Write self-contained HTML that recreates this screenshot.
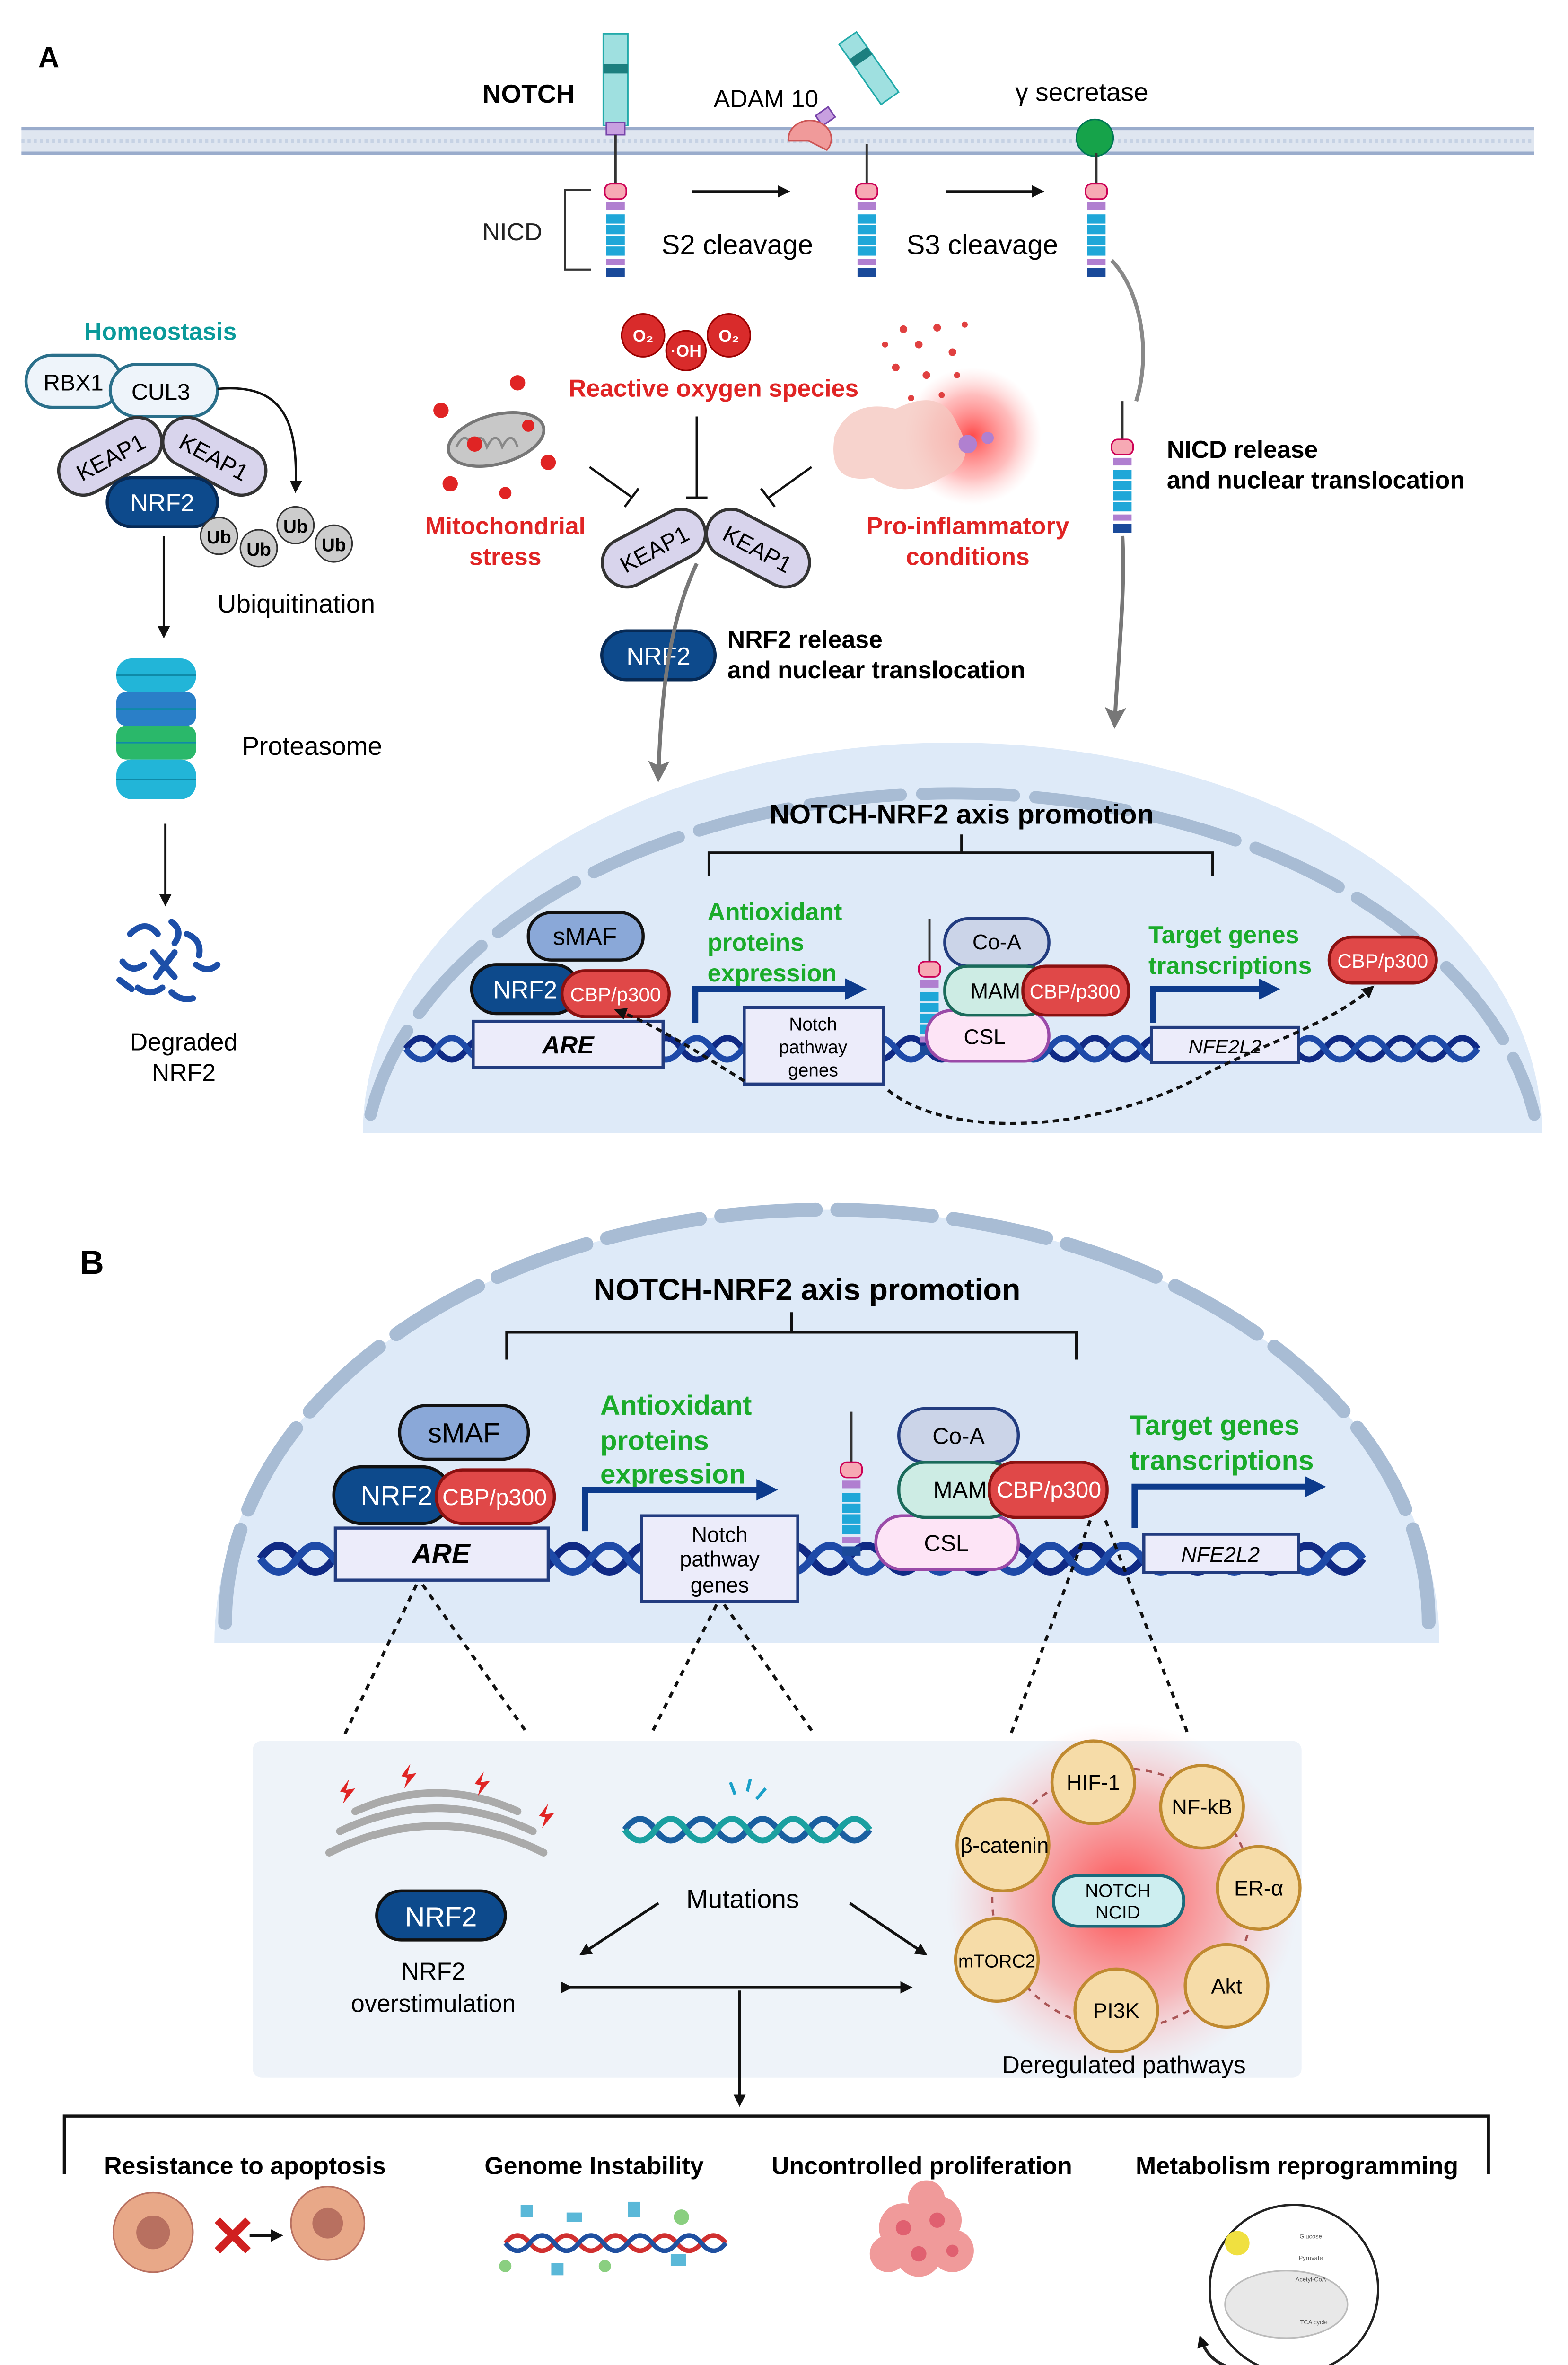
<!DOCTYPE html>
<html><head><meta charset="utf-8"><style>
html,body{margin:0;padding:0;background:#fff;width:3315px;height:5079px;overflow:hidden;}
svg{display:block;}
text{font-family:"Liberation Sans",sans-serif;}
</style></head><body>
<svg width="3315" height="5079" viewBox="0 0 1024 1569" preserveAspectRatio="none" xmlns="http://www.w3.org/2000/svg">
<defs>
<marker id="ah" markerWidth="8" markerHeight="8" refX="6" refY="4" orient="auto" markerUnits="userSpaceOnUse"><path d="M0,0 L8,4 L0,8 Z" fill="#111"/></marker>
<marker id="ahg" markerWidth="14" markerHeight="14" refX="10" refY="7" orient="auto" markerUnits="userSpaceOnUse"><path d="M0,0 L14,7 L0,14 L3,7 Z" fill="#777"/></marker>
<marker id="ahb" markerWidth="14" markerHeight="14" refX="8" refY="7" orient="auto" markerUnits="userSpaceOnUse"><path d="M0,0 L14,7 L0,14 Z" fill="#0d3b8c"/></marker>
<radialGradient id="glow"><stop offset="0" stop-color="#ff2a2a" stop-opacity="0.85"/><stop offset="0.6" stop-color="#ff6b6b" stop-opacity="0.45"/><stop offset="1" stop-color="#ffb0b0" stop-opacity="0"/></radialGradient>
<g id="rec">
<rect x="-7" y="0" width="14" height="10" rx="4" fill="#f7a9b4" stroke="#c05"/>
<rect x="-6" y="12" width="12" height="5" fill="#b07fd0"/>
<rect x="-6" y="20" width="12" height="6" fill="#1fa7d8"/><rect x="-6" y="27" width="12" height="6" fill="#1fa7d8"/><rect x="-6" y="34" width="12" height="6" fill="#1fa7d8"/><rect x="-6" y="41" width="12" height="6" fill="#1fa7d8"/>
<rect x="-6" y="49" width="12" height="4" fill="#b07fd0"/>
<rect x="-6" y="55" width="12" height="6" fill="#1a4a9a"/>
</g>
</defs>

<text x="25" y="44" font-size="19" font-weight="bold">A</text>
<rect x="14" y="84" width="988" height="16" fill="#dfe6f0"/>
<line x1="14" y1="84" x2="1002" y2="84" stroke="#9aaccc" stroke-width="2"/>
<line x1="14" y1="100" x2="1002" y2="100" stroke="#9aaccc" stroke-width="2"/>
<line x1="14" y1="92" x2="1002" y2="92" stroke="#c6d2e4" stroke-width="3" stroke-dasharray="2 2"/>

<text x="315" y="67" font-size="17" font-weight="bold">NOTCH</text>
<g>
<rect x="394" y="22" width="16" height="60" fill="#9fe0e0" stroke="#2aa" />
<rect x="394" y="42" width="16" height="6" fill="#1c7f7f"/>
<rect x="396" y="80" width="12" height="8" fill="#c8a0e0" stroke="#74a"/>
<line x1="402" y1="88" x2="402" y2="120" stroke="#333" stroke-width="1.5"/>
</g>
<use href="#rec" x="402" y="120"/>
<text x="315" y="157" font-size="16" fill="#222">NICD</text>
<path d="M386,124 L369,124 L369,176 L386,176" fill="none" stroke="#333" stroke-width="1.3"/>

<text x="466" y="70" font-size="16">ADAM 10</text>
<g transform="translate(570,50) rotate(-35)"><rect x="-6" y="-30" width="14" height="48" fill="#9fe0e0" stroke="#2aa"/><rect x="-6" y="-18" width="14" height="6" fill="#1c7f7f"/></g>
<rect x="534" y="72" width="10" height="8" fill="#c8a0e0" stroke="#74a" transform="rotate(-35 539 76)"/>
<path d="M515,92 A14,12 0 1,1 540,98 L528,92 Z" fill="#f09a9a" stroke="#c55"/>
<line x1="566" y1="94" x2="566" y2="120" stroke="#333" stroke-width="1.5"/>
<use href="#rec" x="566" y="120"/>

<text x="663" y="66" font-size="17">γ secretase</text>
<circle cx="715" cy="90" r="12" fill="#16a34a" stroke="#075"/>
<line x1="716" y1="100" x2="716" y2="120" stroke="#333" stroke-width="1.5"/>
<use href="#rec" x="716" y="120"/>

<line x1="452" y1="125" x2="514" y2="125" stroke="#111" stroke-width="1.5" marker-end="url(#ah)"/>
<line x1="618" y1="125" x2="680" y2="125" stroke="#111" stroke-width="1.5" marker-end="url(#ah)"/>
<text x="432" y="166" font-size="18">S2 cleavage</text>
<text x="592" y="166" font-size="18">S3 cleavage</text>

<path d="M726,170 C745,190 752,230 742,262" fill="none" stroke="#888" stroke-width="2.5"/>
<line x1="733" y1="262" x2="733" y2="288" stroke="#333" stroke-width="1.5"/>
<use href="#rec" x="733" y="287"/>
<path d="M733,350 C735,390 730,430 728,472" fill="none" stroke="#777" stroke-width="2.5" marker-end="url(#ahg)"/>
<text x="762" y="299" font-size="16" font-weight="bold">NICD release</text>
<text x="762" y="319" font-size="16" font-weight="bold">and nuclear translocation</text>

<text x="55" y="222" font-size="16" font-weight="bold" fill="#0a9a9a">Homeostasis</text>
<rect x="17" y="232" width="62" height="34" rx="17" fill="#eef4fa" stroke="#2a6f8a" stroke-width="2"/>
<text x="48" y="255" font-size="15" text-anchor="middle">RBX1</text>
<rect x="72" y="238" width="70" height="34" rx="17" fill="#eef4fa" stroke="#2a6f8a" stroke-width="2"/>
<text x="105" y="261" font-size="15" text-anchor="middle">CUL3</text>
<g transform="translate(72,298) rotate(-28)"><rect x="-36" y="-16" width="72" height="32" rx="16" fill="#d8d4ec" stroke="#333" stroke-width="2"/><text x="0" y="6" font-size="15" text-anchor="middle">KEAP1</text></g>
<g transform="translate(140,298) rotate(28)"><rect x="-36" y="-16" width="72" height="32" rx="16" fill="#d8d4ec" stroke="#333" stroke-width="2"/><text x="0" y="6" font-size="15" text-anchor="middle">KEAP1</text></g>
<rect x="70" y="312" width="72" height="32" rx="16" fill="#0d4a8c" stroke="#072a55" stroke-width="2"/>
<text x="106" y="334" font-size="16" fill="#fff" text-anchor="middle">NRF2</text>
<path d="M142,254 C185,250 195,275 193,320" fill="none" stroke="#111" stroke-width="1.5" marker-end="url(#ah)"/>
<g font-size="12" font-weight="bold" text-anchor="middle">
<circle cx="143" cy="350" r="12" fill="#ccc" stroke="#333"/><text x="143" y="355">Ub</text>
<circle cx="169" cy="358" r="12" fill="#ccc" stroke="#333"/><text x="169" y="363">Ub</text>
<circle cx="193" cy="343" r="12" fill="#ccc" stroke="#333"/><text x="193" y="348">Ub</text>
<circle cx="218" cy="355" r="12" fill="#ccc" stroke="#333"/><text x="218" y="360">Ub</text>
</g>
<text x="142" y="400" font-size="17">Ubiquitination</text>
<line x1="107" y1="350" x2="107" y2="415" stroke="#111" stroke-width="1.5" marker-end="url(#ah)"/>
<g>
<rect x="76" y="430" width="52" height="22" rx="10" fill="#22b5d8"/>
<rect x="76" y="452" width="52" height="22" rx="6" fill="#2a7fc8"/>
<rect x="76" y="474" width="52" height="22" rx="6" fill="#2ab86a"/>
<rect x="76" y="496" width="52" height="26" rx="10" fill="#22b5d8"/>
<g fill="none" stroke="#0f8aa8" stroke-width="1"><line x1="76" y1="441" x2="128" y2="441"/><line x1="76" y1="463" x2="128" y2="463"/><line x1="76" y1="485" x2="128" y2="485"/><line x1="76" y1="509" x2="128" y2="509"/></g>
</g>
<text x="158" y="493" font-size="17">Proteasome</text>
<line x1="108" y1="538" x2="108" y2="590" stroke="#111" stroke-width="1.5" marker-end="url(#ah)"/>
<g fill="none" stroke="#1d4fa8" stroke-width="4" stroke-linecap="round">
<path d="M85,610 q10,-10 18,0"/><path d="M112,602 q8,6 2,14"/><path d="M80,628 q6,8 14,2"/><path d="M100,622 l14,16"/><path d="M114,622 l-12,16"/><path d="M122,610 q10,4 8,14"/><path d="M128,630 q8,6 14,0"/><path d="M90,645 q8,6 16,0"/><path d="M112,648 q6,6 14,4"/><path d="M78,640 l8,6"/>
</g>
<text x="120" y="686" font-size="16" text-anchor="middle">Degraded</text>
<text x="120" y="706" font-size="16" text-anchor="middle">NRF2</text>

<g font-size="11" fill="#fff" font-weight="bold" text-anchor="middle">
<circle cx="420" cy="219" r="14" fill="#d92b2b" stroke="#900"/><text x="420" y="223">O₂</text>
<circle cx="448" cy="229" r="13" fill="#d92b2b" stroke="#900"/><text x="448" y="233">·OH</text>
<circle cx="476" cy="219" r="14" fill="#d92b2b" stroke="#900"/><text x="476" y="223">O₂</text>
</g>
<text x="466" y="259" font-size="16" font-weight="bold" fill="#e02424" text-anchor="middle">Reactive oxygen species</text>
<ellipse cx="324" cy="287" rx="32" ry="16" fill="#c8c8c8" stroke="#777" stroke-width="2" transform="rotate(-15 324 287)"/>
<path d="M298,292 q6,-12 10,0 q6,-12 10,0 q6,-12 10,0 q6,-12 10,0" fill="none" stroke="#888" stroke-width="1.5"/>
<g fill="#e02424"><circle cx="288" cy="268" r="5"/><circle cx="338" cy="250" r="5"/><circle cx="358" cy="302" r="5"/><circle cx="294" cy="316" r="5"/><circle cx="330" cy="322" r="4"/><circle cx="310" cy="290" r="5"/><circle cx="345" cy="278" r="4"/></g>
<text x="330" y="349" font-size="16" font-weight="bold" fill="#e02424" text-anchor="middle">Mitochondrial</text>
<text x="330" y="369" font-size="16" font-weight="bold" fill="#e02424" text-anchor="middle">stress</text>
<circle cx="635" cy="285" r="45" fill="url(#glow)"/>
<path d="M545,285 q10,-25 40,-18 q30,-15 40,10 q15,25 -10,35 q-25,15 -45,0 q-30,5 -25,-27Z" fill="#f5c8c0" opacity="0.8"/>
<g fill="#e04040"><circle cx="590" cy="215" r="2.5"/><circle cx="600" cy="225" r="2.5"/><circle cx="612" cy="214" r="2.5"/><circle cx="622" cy="230" r="2.5"/><circle cx="585" cy="240" r="2.5"/><circle cx="605" cy="245" r="2.5"/><circle cx="630" cy="212" r="2"/><circle cx="578" cy="225" r="2"/><circle cx="615" cy="258" r="2"/><circle cx="595" cy="260" r="2"/><circle cx="625" cy="245" r="2"/></g>
<circle cx="632" cy="290" r="6" fill="#b080d0"/><circle cx="645" cy="286" r="4" fill="#b080d0"/>
<text x="632" y="349" font-size="16" font-weight="bold" fill="#e02424" text-anchor="middle">Pro-inflammatory</text>
<text x="632" y="369" font-size="16" font-weight="bold" fill="#e02424" text-anchor="middle">conditions</text>
<g stroke="#111" stroke-width="1.5">
<line x1="455" y1="272" x2="455" y2="325"/><line x1="448" y1="325" x2="462" y2="325"/>
<line x1="385" y1="305" x2="413" y2="325"/><line x1="408" y1="331" x2="417" y2="319"/>
<line x1="530" y1="305" x2="502" y2="325"/><line x1="497" y1="319" x2="506" y2="331"/>
</g>
<g transform="translate(427,358) rotate(-28)"><rect x="-36" y="-16" width="72" height="32" rx="16" fill="#d8d4ec" stroke="#333" stroke-width="2"/><text x="0" y="6" font-size="15" text-anchor="middle">KEAP1</text></g>
<g transform="translate(495,358) rotate(28)"><rect x="-36" y="-16" width="72" height="32" rx="16" fill="#d8d4ec" stroke="#333" stroke-width="2"/><text x="0" y="6" font-size="15" text-anchor="middle">KEAP1</text></g>
<rect x="393" y="412" width="74" height="32" rx="16" fill="#0d4a8c" stroke="#072a55" stroke-width="2"/>
<text x="430" y="434" font-size="16" fill="#fff" text-anchor="middle">NRF2</text>
<text x="475" y="423" font-size="16" font-weight="bold">NRF2 release</text>
<text x="475" y="443" font-size="16" font-weight="bold">and nuclear translocation</text>
<path d="M455,368 C440,400 432,440 430,507" fill="none" stroke="#777" stroke-width="2.5" marker-end="url(#ahg)"/>

<path d="M237,740 A385,255 0 0,1 1007,740 Z" fill="#deeaf8"/>
<path d="M242,728 A385,250 0 0,1 1002,728" fill="none" stroke="#a8bcd4" stroke-width="8" stroke-dasharray="60 14" stroke-linecap="round"/>
<text x="628" y="538" font-size="18" font-weight="bold" text-anchor="middle">NOTCH-NRF2 axis promotion</text>
<path d="M463,572 L463,557 L792,557 L792,572 M628,557 L628,545" fill="none" stroke="#111" stroke-width="1.8"/>
<g fill="none" stroke-width="4">
<path d="M265,685 q10,-14 20,0 t20,0 t20,0 t20,0 t20,0 t20,0 t20,0 t20,0 t20,0 t20,0 t20,0 t20,0 t20,0 t20,0 t20,0 t20,0 t20,0 t20,0 t20,0 t20,0 t20,0 t20,0 t20,0 t20,0 t20,0 t20,0 t20,0 t20,0 t20,0 t20,0 t20,0 t20,0 t20,0 t20,0 t20,0" stroke="#102a85"/>
<path d="M265,685 q10,14 20,0 t20,0 t20,0 t20,0 t20,0 t20,0 t20,0 t20,0 t20,0 t20,0 t20,0 t20,0 t20,0 t20,0 t20,0 t20,0 t20,0 t20,0 t20,0 t20,0 t20,0 t20,0 t20,0 t20,0 t20,0 t20,0 t20,0 t20,0 t20,0 t20,0 t20,0 t20,0 t20,0 t20,0 t20,0" stroke="#1e4aa8"/>
</g>
<rect x="345" y="596" width="75" height="31" rx="15" fill="#8aa8d8" stroke="#111" stroke-width="2"/>
<text x="382" y="617" font-size="16" text-anchor="middle">sMAF</text>
<rect x="308" y="630" width="70" height="32" rx="16" fill="#0d4a8c" stroke="#111" stroke-width="2"/>
<text x="343" y="652" font-size="16" fill="#fff" text-anchor="middle">NRF2</text>
<rect x="367" y="634" width="70" height="30" rx="15" fill="#e04848" stroke="#8a1010" stroke-width="2"/>
<text x="402" y="654" font-size="13" fill="#fff" text-anchor="middle">CBP/p300</text>
<rect x="309" y="667" width="124" height="30" fill="#ececfa" stroke="#223c80" stroke-width="2"/>
<text x="371" y="688" font-size="16" font-weight="bold" font-style="italic" text-anchor="middle">ARE</text>
<text x="462" y="601" font-size="16" font-weight="bold" fill="#1aab2a">Antioxidant</text>
<text x="462" y="621" font-size="16" font-weight="bold" fill="#1aab2a">proteins</text>
<text x="462" y="641" font-size="16" font-weight="bold" fill="#1aab2a">expression</text>
<path d="M454,668 L454,646 L560,646" fill="none" stroke="#0d3b8c" stroke-width="4" marker-end="url(#ahb)"/>
<rect x="486" y="658" width="91" height="50" fill="#ececfa" stroke="#223c80" stroke-width="2"/>
<text x="531" y="673" font-size="12" text-anchor="middle">Notch</text>
<text x="531" y="688" font-size="12" text-anchor="middle">pathway</text>
<text x="531" y="703" font-size="12" text-anchor="middle">genes</text>
<line x1="607" y1="600" x2="607" y2="630" stroke="#333" stroke-width="1.5"/>
<use href="#rec" x="607" y="628"/>
<rect x="605" y="660" width="80" height="33" rx="16" fill="#fde4f6" stroke="#9a4aa8" stroke-width="2"/>
<text x="643" y="682" font-size="14" text-anchor="middle">CSL</text>
<rect x="617" y="600" width="68" height="31" rx="15" fill="#cbd4e8" stroke="#223c80" stroke-width="2"/>
<text x="651" y="620" font-size="14" text-anchor="middle">Co-A</text>
<rect x="617" y="631" width="68" height="32" rx="15" fill="#cdece4" stroke="#1a6a5a" stroke-width="2"/>
<text x="650" y="652" font-size="14" text-anchor="middle">MAM</text>
<rect x="668" y="631" width="69" height="32" rx="15" fill="#e04848" stroke="#8a1010" stroke-width="2"/>
<text x="702" y="652" font-size="13" fill="#fff" text-anchor="middle">CBP/p300</text>
<text x="750" y="616" font-size="16" font-weight="bold" fill="#1aab2a">Target genes</text>
<text x="750" y="636" font-size="16" font-weight="bold" fill="#1aab2a">transcriptions</text>
<path d="M753,668 L753,646 L830,646" fill="none" stroke="#0d3b8c" stroke-width="4" marker-end="url(#ahb)"/>
<rect x="752" y="671" width="96" height="23" fill="#ececfa" stroke="#223c80" stroke-width="2"/>
<text x="800" y="688" font-size="13" font-style="italic" text-anchor="middle">NFE2L2</text>
<rect x="868" y="612" width="70" height="30" rx="15" fill="#e04848" stroke="#8a1010" stroke-width="2"/>
<text x="903" y="632" font-size="13" fill="#fff" text-anchor="middle">CBP/p300</text>
<path d="M486,706 C460,690 430,670 403,660" fill="none" stroke="#111" stroke-width="2" stroke-dasharray="4 3" marker-end="url(#ah)"/>
<path d="M580,712 C620,745 720,740 790,700 C830,680 870,668 896,645" fill="none" stroke="#111" stroke-width="2" stroke-dasharray="4 3" marker-end="url(#ah)"/>

<text x="52" y="832" font-size="22" font-weight="bold">B</text>
<path d="M140,1073 A400,283 0 0,1 940,1073 Z" fill="#deeaf8"/>
<path d="M147,1060 A393,270 0 0,1 933,1060" fill="none" stroke="#a8bcd4" stroke-width="9" stroke-dasharray="62 14" stroke-linecap="round"/>
<text x="527" y="849" font-size="20" font-weight="bold" text-anchor="middle">NOTCH-NRF2 axis promotion</text>
<path d="M331,888 L331,870 L703,870 L703,888 M517,870 L517,857" fill="none" stroke="#111" stroke-width="2"/>
<g fill="none" stroke-width="5">
<path d="M170,1018 q12,-17 24,0 t24,0 t24,0 t24,0 t24,0 t24,0 t24,0 t24,0 t24,0 t24,0 t24,0 t24,0 t24,0 t24,0 t24,0 t24,0 t24,0 t24,0 t24,0 t24,0 t24,0 t24,0 t24,0 t24,0 t24,0 t24,0 t24,0 t24,0 t24,0 t24,0" stroke="#102a85"/>
<path d="M170,1018 q12,17 24,0 t24,0 t24,0 t24,0 t24,0 t24,0 t24,0 t24,0 t24,0 t24,0 t24,0 t24,0 t24,0 t24,0 t24,0 t24,0 t24,0 t24,0 t24,0 t24,0 t24,0 t24,0 t24,0 t24,0 t24,0 t24,0 t24,0 t24,0 t24,0 t24,0" stroke="#1e4aa8"/>
</g>
<rect x="261" y="918" width="84" height="35" rx="17" fill="#8aa8d8" stroke="#111" stroke-width="2"/>
<text x="303" y="942" font-size="18" text-anchor="middle">sMAF</text>
<rect x="218" y="958" width="76" height="37" rx="18" fill="#0d4a8c" stroke="#111" stroke-width="2"/>
<text x="259" y="983" font-size="18" fill="#fff" text-anchor="middle">NRF2</text>
<rect x="285" y="960" width="77" height="35" rx="17" fill="#e04848" stroke="#8a1010" stroke-width="2"/>
<text x="323" y="983" font-size="15" fill="#fff" text-anchor="middle">CBP/p300</text>
<rect x="219" y="998" width="139" height="34" fill="#ececfa" stroke="#223c80" stroke-width="2"/>
<text x="288" y="1021" font-size="18" font-weight="bold" font-style="italic" text-anchor="middle">ARE</text>
<text x="392" y="924" font-size="18" font-weight="bold" fill="#1aab2a">Antioxidant</text>
<text x="392" y="947" font-size="18" font-weight="bold" fill="#1aab2a">proteins</text>
<text x="392" y="969" font-size="18" font-weight="bold" fill="#1aab2a">expression</text>
<path d="M382,1000 L382,973 L502,973" fill="none" stroke="#0d3b8c" stroke-width="4" marker-end="url(#ahb)"/>
<rect x="419" y="990" width="102" height="56" fill="#ececfa" stroke="#223c80" stroke-width="2"/>
<text x="470" y="1007" font-size="14" text-anchor="middle">Notch</text>
<text x="470" y="1023" font-size="14" text-anchor="middle">pathway</text>
<text x="470" y="1040" font-size="14" text-anchor="middle">genes</text>
<line x1="556" y1="922" x2="556" y2="955" stroke="#333" stroke-width="1.5"/>
<use href="#rec" x="556" y="955"/>
<rect x="572" y="990" width="93" height="35" rx="17" fill="#fde4f6" stroke="#9a4aa8" stroke-width="2"/>
<text x="618" y="1013" font-size="15" text-anchor="middle">CSL</text>
<rect x="587" y="920" width="78" height="35" rx="17" fill="#cbd4e8" stroke="#223c80" stroke-width="2"/>
<text x="626" y="943" font-size="15" text-anchor="middle">Co-A</text>
<rect x="587" y="955" width="76" height="36" rx="17" fill="#cdece4" stroke="#1a6a5a" stroke-width="2"/>
<text x="627" y="978" font-size="15" text-anchor="middle">MAM</text>
<rect x="646" y="955" width="77" height="36" rx="17" fill="#e04848" stroke="#8a1010" stroke-width="2"/>
<text x="685" y="978" font-size="15" fill="#fff" text-anchor="middle">CBP/p300</text>
<text x="738" y="937" font-size="18" font-weight="bold" fill="#1aab2a">Target genes</text>
<text x="738" y="960" font-size="18" font-weight="bold" fill="#1aab2a">transcriptions</text>
<path d="M741,998 L741,971 L860,971" fill="none" stroke="#0d3b8c" stroke-width="4" marker-end="url(#ahb)"/>
<rect x="747" y="1002" width="101" height="25" fill="#ececfa" stroke="#223c80" stroke-width="2"/>
<text x="797" y="1020" font-size="14" font-style="italic" text-anchor="middle">NFE2L2</text>
<g stroke="#111" stroke-width="2" stroke-dasharray="4 4" fill="none">
<line x1="272" y1="1035" x2="225" y2="1133"/><line x1="276" y1="1035" x2="345" y2="1133"/>
<line x1="468" y1="1048" x2="425" y2="1133"/><line x1="473" y1="1048" x2="532" y2="1133"/>
<line x1="712" y1="993" x2="660" y2="1133"/><line x1="722" y1="993" x2="776" y2="1133"/>
</g>

<rect x="165" y="1137" width="685" height="220" rx="6" fill="#eef3f9"/>
<g fill="none" stroke="#aaa" stroke-width="5" stroke-linecap="round">
<path d="M215,1210 q70,-35 140,0"/><path d="M222,1196 q63,-30 126,0"/><path d="M232,1183 q53,-24 106,0"/>
</g>
<g fill="#e02424">
<path d="M222,1170 l6,-8 l-2,7 l6,-1 l-8,10 l2,-7z"/><path d="M262,1160 l6,-8 l-2,7 l6,-1 l-8,10 l2,-7z"/><path d="M310,1165 l6,-8 l-2,7 l6,-1 l-8,10 l2,-7z"/><path d="M352,1186 l6,-8 l-2,7 l6,-1 l-8,10 l2,-7z"/>
</g>
<rect x="246" y="1235" width="84" height="32" rx="16" fill="#0d4a8c" stroke="#111" stroke-width="2"/>
<text x="288" y="1258" font-size="18" fill="#fff" text-anchor="middle">NRF2</text>
<text x="283" y="1293" font-size="16" text-anchor="middle">NRF2</text>
<text x="283" y="1314" font-size="16" text-anchor="middle">overstimulation</text>
<g fill="none" stroke-width="4">
<path d="M408,1195 q10,-14 20,0 t20,0 t20,0 t20,0 t20,0 t20,0 t20,0 t20,0" stroke="#1a5fa0"/>
<path d="M408,1195 q10,14 20,0 t20,0 t20,0 t20,0 t20,0 t20,0 t20,0 t20,0" stroke="#1aa0a0"/>
</g>
<g stroke="#1aa0c8" stroke-width="2"><line x1="480" y1="1172" x2="477" y2="1164"/><line x1="488" y1="1170" x2="490" y2="1162"/><line x1="494" y1="1175" x2="500" y2="1168"/></g>
<text x="485" y="1246" font-size="17" text-anchor="middle">Mutations</text>
<line x1="430" y1="1243" x2="380" y2="1276" stroke="#111" stroke-width="1.8" marker-end="url(#ah)"/>
<line x1="555" y1="1243" x2="604" y2="1276" stroke="#111" stroke-width="1.8" marker-end="url(#ah)"/>
<line x1="372" y1="1298" x2="594" y2="1298" stroke="#111" stroke-width="1.8" marker-start="url(#ah)" marker-end="url(#ah)"/>
<line x1="483" y1="1300" x2="483" y2="1374" stroke="#111" stroke-width="1.8" marker-end="url(#ah)"/>

<circle cx="733" cy="1240" r="115" fill="url(#glow)"/>
<circle cx="733" cy="1240" r="85" fill="none" stroke="#a55" stroke-width="1.5" stroke-dasharray="4 4"/>
<g fill="#f6dca8" stroke="#c08a30" stroke-width="2">
<circle cx="714" cy="1164" r="27"/><circle cx="785" cy="1180" r="27"/><circle cx="655" cy="1205" r="30"/><circle cx="822" cy="1233" r="27"/><circle cx="651" cy="1280" r="27"/><circle cx="801" cy="1297" r="27"/><circle cx="729" cy="1313" r="27"/>
</g>
<g font-size="14" text-anchor="middle">
<text x="714" y="1169">HIF-1</text><text x="785" y="1185">NF-kB</text><text x="656" y="1210">β-catenin</text><text x="822" y="1238">ER-α</text><text x="651" y="1285" font-size="12">mTORC2</text><text x="801" y="1302">Akt</text><text x="729" y="1318">PI3K</text>
</g>
<rect x="688" y="1225" width="85" height="33" rx="16" fill="#cdeef0" stroke="#1a6a7a" stroke-width="2"/>
<text x="730" y="1239" font-size="12" text-anchor="middle">NOTCH</text>
<text x="730" y="1253" font-size="12" text-anchor="middle">NCID</text>
<text x="734" y="1354" font-size="16" text-anchor="middle">Deregulated pathways</text>

<path d="M42,1420 L42,1382 L972,1382 L972,1420" fill="none" stroke="#111" stroke-width="2"/>
<g font-size="16" font-weight="bold" text-anchor="middle">
<text x="160" y="1420">Resistance to apoptosis</text>
<text x="388" y="1420">Genome Instability</text>
<text x="602" y="1420">Uncontrolled proliferation</text>
<text x="847" y="1420">Metabolism reprogramming</text>
</g>
<circle cx="100" cy="1458" r="26" fill="#e8a888" stroke="#b87060"/><circle cx="100" cy="1458" r="11" fill="#b87060"/>
<path d="M142,1450 l20,20 M162,1450 l-20,20" stroke="#d02020" stroke-width="5"/>
<line x1="163" y1="1460" x2="183" y2="1460" stroke="#111" stroke-width="2" marker-end="url(#ah)"/>
<circle cx="214" cy="1452" r="24" fill="#e8a888" stroke="#b87060"/><circle cx="214" cy="1452" r="10" fill="#b87060"/>
<g fill="none" stroke-width="3">
<path d="M330,1465 q8,-10 16,0 t16,0 t16,0 t16,0 t16,0 t16,0 t16,0 t16,0 t16,0" stroke="#d03030"/>
<path d="M330,1465 q8,10 16,0 t16,0 t16,0 t16,0 t16,0 t16,0 t16,0 t16,0 t16,0" stroke="#2050a0"/>
</g>
<g fill="#5ab8d8"><rect x="340" y="1440" width="8" height="8"/><rect x="370" y="1445" width="10" height="6"/><rect x="410" y="1438" width="8" height="10"/><rect x="438" y="1472" width="10" height="8"/><rect x="360" y="1478" width="8" height="8"/></g>
<g fill="#8acf80"><circle cx="445" cy="1448" r="5"/><circle cx="395" cy="1480" r="4"/><circle cx="330" cy="1480" r="4"/></g>
<g fill="#f09a9a"><circle cx="590" cy="1455" r="16"/><circle cx="612" cy="1450" r="16"/><circle cx="600" cy="1472" r="15"/><circle cx="622" cy="1470" r="14"/><circle cx="580" cy="1472" r="12"/><circle cx="605" cy="1436" r="12"/></g>
<g fill="#e06070"><circle cx="590" cy="1455" r="5"/><circle cx="612" cy="1450" r="5"/><circle cx="600" cy="1472" r="5"/><circle cx="622" cy="1470" r="4"/></g>
<circle cx="845" cy="1495" r="55" fill="#fff" stroke="#222" stroke-width="1.5"/>
<ellipse cx="840" cy="1505" rx="40" ry="22" fill="#e8e8e8" stroke="#bbb"/>
<circle cx="808" cy="1465" r="8" fill="#f0e040"/>
<path d="M800,1545 q-12,-5 -16,-18" fill="none" stroke="#222" stroke-width="2" marker-end="url(#ah)"/>
<g font-size="4" text-anchor="middle" fill="#555"><text x="856" y="1462">Glucose</text><text x="856" y="1476">Pyruvate</text><text x="856" y="1490">Acetyl-CoA</text><text x="858" y="1518">TCA cycle</text></g>
</svg>
</body></html>
